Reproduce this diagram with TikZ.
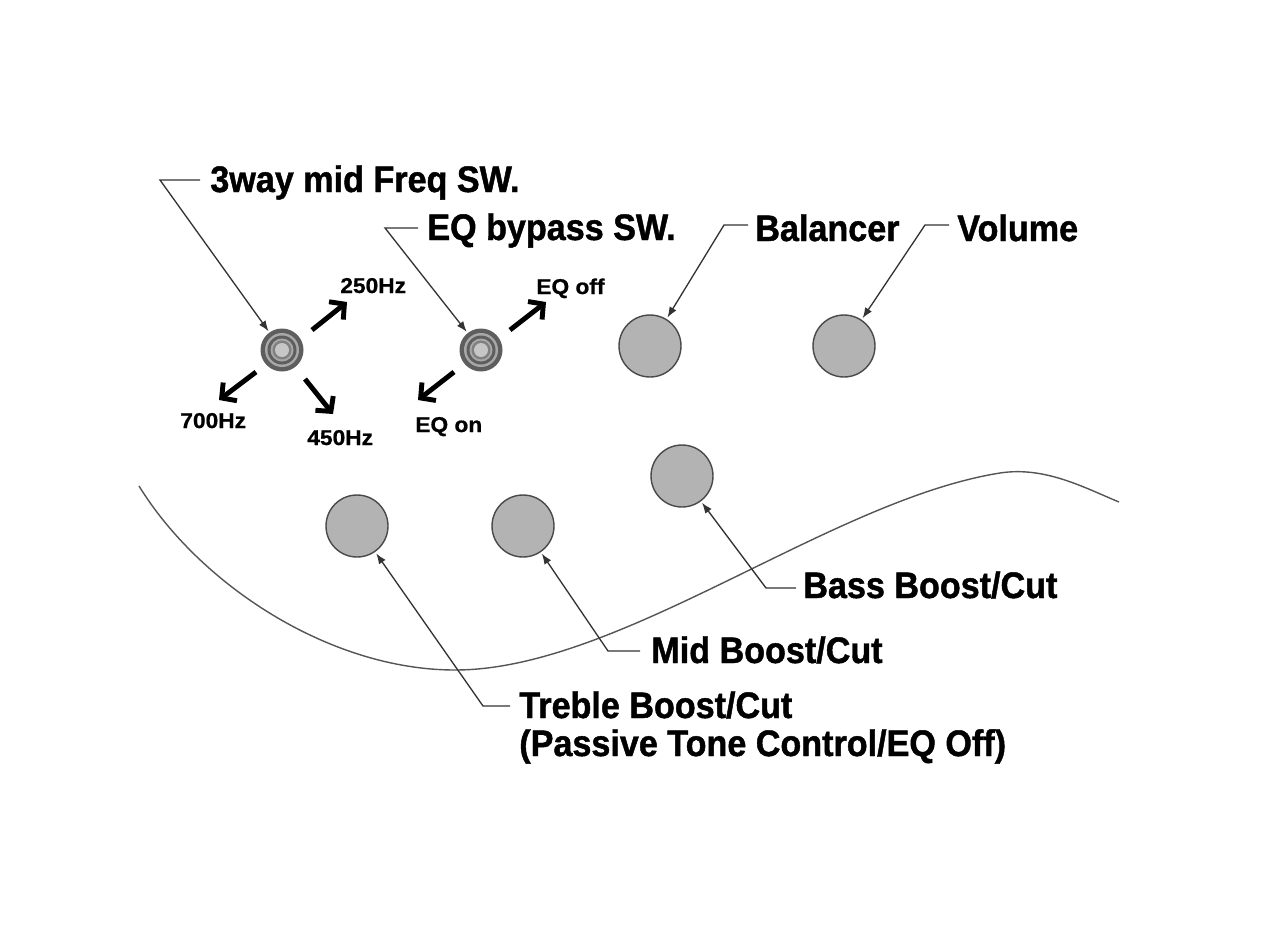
\documentclass[tikz,border=0pt]{standalone}
\usepackage{fontspec}
\setmainfont{Liberation Sans}
\newfontfamily\bigfont{Liberation Sans Bold}[FakeStretch=0.925,FakeBold=1.2]
\newfontfamily\smallfont{Liberation Sans Bold}[FakeStretch=1.06,FakeBold=0.8]
\usetikzlibrary{arrows.meta}
\definecolor{knobfill}{HTML}{B3B3B3}
\definecolor{knobline}{HTML}{4A4A4A}
\definecolor{leadcol}{HTML}{333333}
\definecolor{curvecol}{HTML}{555555}
\definecolor{swdark}{HTML}{5E5E5E}
\definecolor{swlight}{HTML}{A8A8A8}
\tikzset{
  knob/.style={circle, draw=knobline, line width=0.8pt, fill=knobfill, minimum size=1.24cm, inner sep=0pt},
  swnode/.style={circle, minimum size=0.84cm, inner sep=0pt},
  biglabel/.style={anchor=base west, inner sep=0pt, font=\bigfont\fontsize{21}{25}\selectfont},
  smalllabel/.style={anchor=base west, inner sep=0pt, font=\smallfont\fontsize{12.2}{14}\selectfont},
  leader/.style={draw=leadcol, line width=0.75pt, -{Latex[length=6pt,width=4.5pt]}, shorten >=1pt},
  bold arrow/.style={line width=2.8pt, -{Straight Barb[length=6pt,width=13pt]}},
}
\begin{document}
\begin{tikzpicture}[x=0.02cm,y=-0.02cm]
\useasboundingbox (0,0) rectangle (1268,930);
\fill[white] (0,0) rectangle (1268,930);

% body curve
\draw[curvecol, line width=0.8pt] (139,486) .. controls (200,585) and (330,670) .. (455,670)
  .. controls (620,670) and (830,500) .. (1000,473)
  .. controls (1045,466) and (1085,488) .. (1119,502);

% switches
\foreach \n/\x in {sw1/282, sw2/481}{
  \fill[swdark] (\x,350) circle (21.5);
  \fill[swlight] (\x,350) circle (17);
  \fill[swdark] (\x,350) circle (14.5);
  \fill[swlight] (\x,350) circle (11.5);
  \fill[gray] (\x,350) circle (9.5);
  \fill[gray!45] (\x,350) circle (7);
  \node[swnode] (\n) at (\x,350) {};
}

% knobs
\node[knob] (bal) at (650,346) {};
\node[knob] (vol) at (844,346) {};
\node[knob] (bass) at (682,476) {};
\node[knob] (mid) at (523,526) {};
\node[knob] (treb) at (357,526) {};

% big labels
\node[biglabel] (l3way) at (210,192) {3way mid Freq SW.};
\node[biglabel] (leq) at (427,240) {EQ bypass SW.};
\node[biglabel] (lbal) at (755,241) {Balancer};
\node[biglabel] (lvol) at (957,241) {Volume};
\node[biglabel] (lbass) at (803,598) {Bass Boost/Cut};
\node[biglabel] (lmid) at (651,663) {Mid Boost/Cut};
\node[biglabel] (ltreb) at (519,718) {Treble Boost/Cut};
\node[biglabel] (ltreb2) at (519,756) {(Passive Tone Control/EQ Off)};

% small labels
\node[smalllabel] (l250) at (340,293) {250Hz};
\node[smalllabel] (l700) at (180,428) {700Hz};
\node[smalllabel] (l450) at (307,445) {450Hz};
\node[smalllabel] (leqoff) at (536,294) {EQ off};
\node[smalllabel] (leqon) at (415,432) {EQ on};

% leader corners
\coordinate (c3way) at (160,180);
\coordinate (ceq) at (385,228);
\coordinate (cbal) at (724,225);
\coordinate (cvol) at (925,225);
\coordinate (cbass) at (766,588);
\coordinate (cmid) at (608,651);
\coordinate (ctreb) at (483,706);

\draw[leader] (200,180) -- (c3way) -- (sw1);
\draw[leader] (418,228) -- (ceq) -- (sw2);
\draw[leader] (748,225) -- (cbal) -- (bal);
\draw[leader] (949,225) -- (cvol) -- (vol);
\draw[leader] (796,588) -- (cbass) -- (bass);
\draw[leader] (640,651) -- (cmid) -- (mid);
\draw[leader] (510,706) -- (ctreb) -- (treb);

% bold direction arrows
\coordinate (a1s) at (312,330); \coordinate (a1e) at (347,302);
\coordinate (a2s) at (256,372); \coordinate (a2e) at (219,400);
\coordinate (a3s) at (305,379); \coordinate (a3e) at (333,414);
\coordinate (a4s) at (510,330); \coordinate (a4e) at (546,302);
\coordinate (a5s) at (454,372); \coordinate (a5e) at (418,400);
\draw[bold arrow] (a1s) -- (a1e);
\draw[bold arrow] (a2s) -- (a2e);
\draw[bold arrow] (a3s) -- (a3e);
\draw[bold arrow] (a4s) -- (a4e);
\draw[bold arrow] (a5s) -- (a5e);
\end{tikzpicture}
\end{document}
